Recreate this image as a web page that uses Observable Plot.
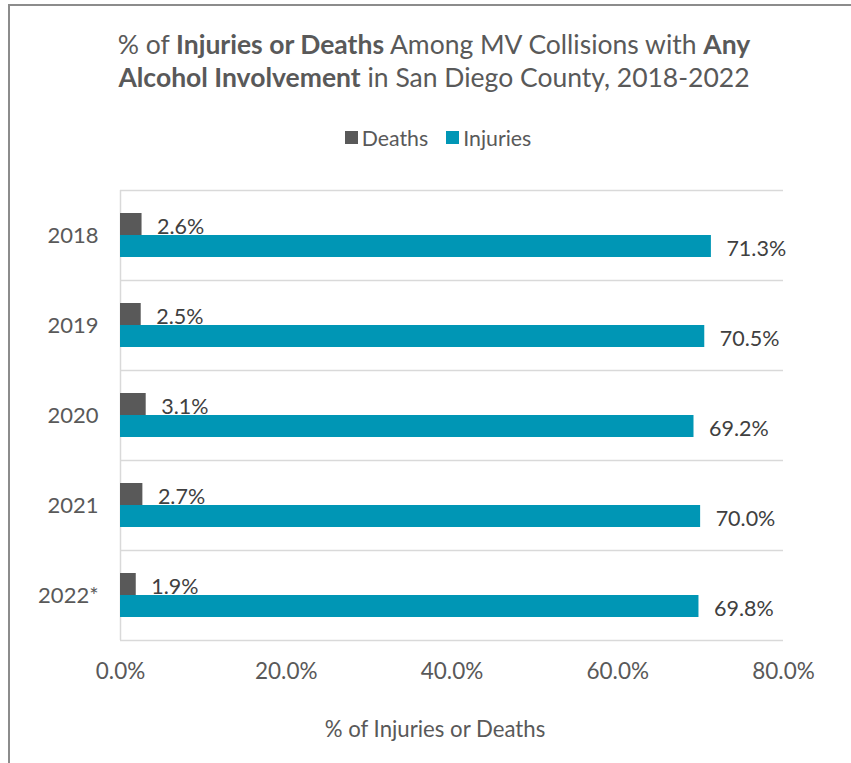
<!DOCTYPE html>
<html>
<head>
<meta charset="utf-8">
<script src="https://cdn.jsdelivr.net/npm/d3@7"></script>
<script src="https://cdn.jsdelivr.net/npm/@observablehq/plot@0.6"></script>
<style>
  html, body { margin: 0; padding: 0; background: #fff; }
  #wrap { position: relative; width: 851px; height: 763px; overflow: hidden; background: #fff; font-family: Lato, "Open Sans", sans-serif; color: #595959; }
  #frame { position: absolute; left: 8px; top: 4px; width: 1000px; height: 1000px; border-top: 2px solid #8c8c8c; border-left: 2px solid #8c8c8c; }
  #title { position: absolute; left: 0; width: 868px; top: 28px; text-align: center; font-size: 26.5px; line-height: 33px; color: #595959; }
  #legend { position: absolute; left: 0; width: 876px; top: 124px; text-align: center; font-size: 21.3px; line-height: 24px; color: #595959; }
  #legend .item { display: inline-flex; align-items: center; margin: 0 9px; }
  #legend .sw { display: inline-block; width: 13px; height: 13px; margin-right: 4px; }
  #chart { position: absolute; left: 0; top: 170px; }
  #xlabel { position: absolute; left: 0; width: 870px; top: 716px; text-align: center; font-size: 22.2px; line-height: 26px; color: #595959; }
</style>
</head>
<body>
<div id="wrap">
  <div id="frame"></div>
  <div id="title"></div>
  <div id="legend"></div>
  <div id="chart"></div>
  <div id="xlabel"></div>
</div>
<script>
// ---- data ----
const years = ["2018", "2019", "2020", "2021", "2022*"];
const deaths = [2.6, 2.5, 3.1, 2.7, 1.9];
const injuries = [71.3, 70.5, 69.2, 70.0, 69.8];
const xTicks = [0, 20, 40, 60, 80];
const seriesNames = ["Deaths", "Injuries"];
const seriesColors = ["#595959", "#0096b5"];
const titleParts = [
  ["% of ", false], ["Injuries or Deaths", true], [" Among MV Collisions with ", false], ["Any", true],
  ["\n", false],
  ["Alcohol Involvement", true], [" in San Diego County, 2018-2022", false]
];
const xAxisLabel = "% of Injuries or Deaths";

// ---- title ----
const titleEl = document.getElementById("title");
titleEl.innerHTML = titleParts.map(([t, b]) =>
  t === "\n" ? "<br>" : (b ? `<b>${t}</b>` : `<span>${t}</span>`)).join("");

// ---- legend ----
const legendEl = document.getElementById("legend");
legendEl.innerHTML = seriesNames.map((n, i) =>
  `<span class="item"><span class="sw" style="background:${seriesColors[i]}"></span>${n}</span>`).join("");

document.getElementById("xlabel").textContent = xAxisLabel;

const rows = years.map((y, i) => ({year: y, deaths: deaths[i], injuries: injuries[i]}));
const fmt = v => v.toFixed(1) + "%";

const chart = Plot.plot({
  width: 851,
  height: 593,
  marginLeft: 120,
  marginRight: 68,
  marginTop: 20,
  marginBottom: 123,
  style: {fontFamily: "Lato, 'Open Sans', sans-serif", fontSize: "21px", color: "#595959", background: "transparent"},
  x: {domain: [0, 80]},
  y: {domain: years, padding: 0},
  marks: [
    Plot.ruleY(years, {y: d => d, x1: 0, x2: 80, dy: -45, stroke: "#d9d9d9", strokeWidth: 1.5}),
    Plot.ruleY([years[years.length - 1]], {y: d => d, x1: 0, x2: 80, dy: 45, stroke: "#d9d9d9", strokeWidth: 1.5}),
    Plot.ruleX([0], {stroke: "#d9d9d9", strokeWidth: 1.5}),
    Plot.barX(rows, {y: "year", x: "deaths", fill: seriesColors[0], insetTop: 23, insetBottom: 45}),
    Plot.barX(rows, {y: "year", x: "injuries", fill: seriesColors[1], insetTop: 45, insetBottom: 23}),
    Plot.text(rows, {y: "year", x: "deaths", text: d => fmt(d.deaths), dx: 15, dy: -8, textAnchor: "start", fill: "#404040", fontSize: 21.5}),
    Plot.text(rows, {y: "year", x: "injuries", text: d => fmt(d.injuries), dx: 15, dy: 14, textAnchor: "start", fill: "#404040", fontSize: 21.5}),
    Plot.axisX({ticks: xTicks, tickFormat: fmt, tickSize: 0, tickPadding: 23, fontSize: 22.5, fill: "#595959", label: null}),
    Plot.axisY({tickSize: 0, tickPadding: 22, fontSize: 22, fill: "#595959", label: null})
  ]
});
document.getElementById("chart").appendChild(chart);
</script>
</body>
</html>
